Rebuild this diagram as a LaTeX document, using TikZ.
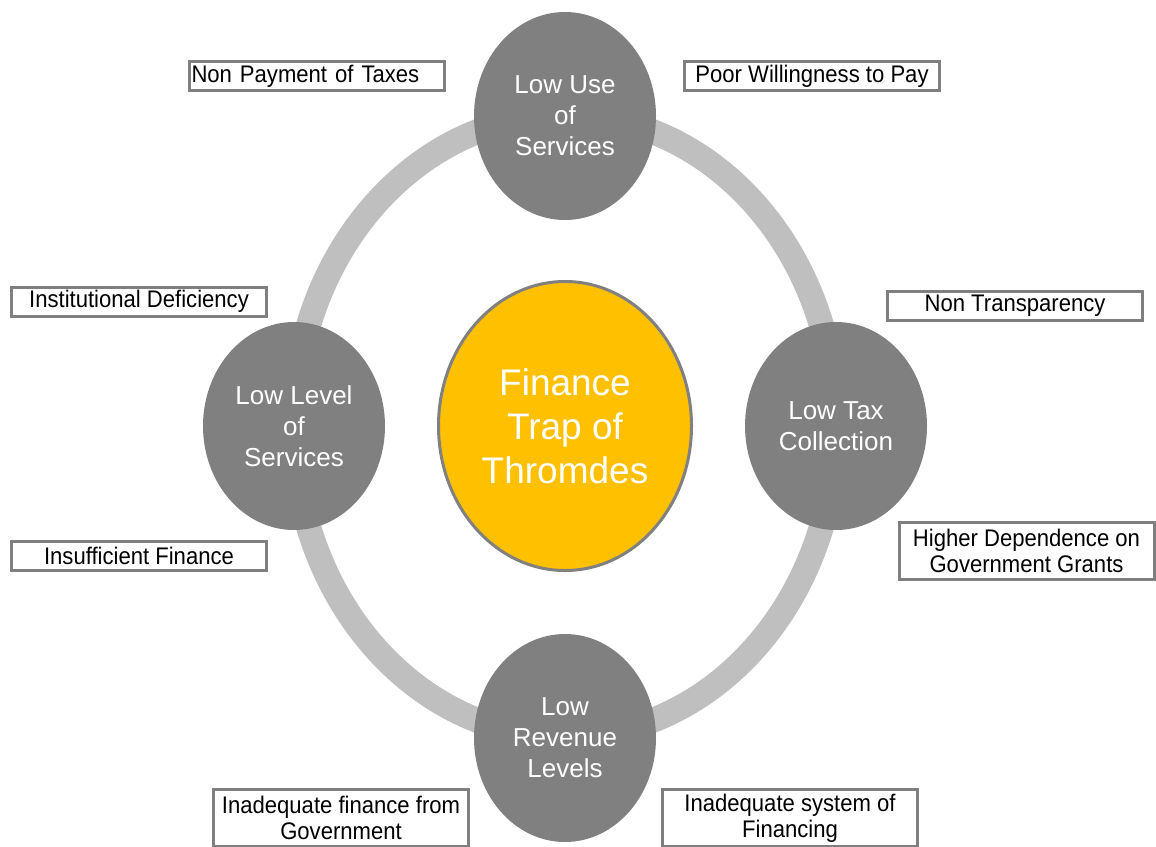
\documentclass[tikz,border=0pt]{standalone}
\usepackage{fontspec}
\setmainfont{Liberation Sans}
\newfontfamily\narrowsans[FakeStretch=0.92]{Liberation Sans}
\usetikzlibrary{shapes.geometric}
\definecolor{circgray}{HTML}{808080}
\definecolor{ringgray}{HTML}{BFBFBF}
\definecolor{gold}{HTML}{FFC000}
\definecolor{boxline}{HTML}{7F7F7F}
\begin{document}
\begin{tikzpicture}[x=1pt,y=-1pt,
  factor/.style={ellipse, fill=circgray, draw=none, minimum width=182pt, minimum height=208pt, inner sep=0pt, text=white, align=center, font=\fontsize{26}{31}\selectfont},
  corenode/.style={ellipse, fill=gold, draw=circgray, line width=3pt, minimum width=253pt, minimum height=289pt, inner sep=0pt, text=white, align=center, font=\fontsize{37}{44}\selectfont},
  cause/.style={rectangle, draw=boxline, line width=3pt, fill=white, minimum width=255pt, minimum height=29pt, inner sep=2pt, align=center, font=\narrowsans\fontsize{24}{26}\selectfont},
  ring/.style={draw=ringgray, line width=25pt}
]
\useasboundingbox (0,0) rectangle (1156,846);
\fill[white] (0,0) rectangle (1156,846);
\coordinate (mid) at (565,426);
\draw[ring] (mid) ellipse [x radius=271pt, y radius=311pt];

\node[corenode] (core) at (mid) {Finance\\Trap of\\Thromdes};
\node[factor] (use) at (565,116) {Low Use\\of\\Services};
\node[factor] (level) at (294,426) {Low Level\\of\\Services};
\node[factor] (tax) at (836,426) {Low Tax\\Collection};
\node[factor] (rev) at (565,738) {Low\\Revenue\\Levels};

\node[cause, align=left, text width=251pt] (c1) at (317,76) {Non Payment of Taxes};
\node[cause] (c2) at (812,76) {Poor Willingness to Pay};
\node[cause] (c3) at (139,301.5) {Institutional Deficiency};
\node[cause] (c4) at (1015,306) {Non Transparency};
\node[cause] (c5) at (139,556) {Insufficient Finance};
\node[cause, minimum height=57pt] (c6) at (1026.5,551) {Higher Dependence on\\Government Grants};
\node[cause, minimum height=57pt] (c7) at (341,818) {Inadequate finance from\\Government};
\node[cause, minimum height=57pt] (c8) at (790,818) {Inadequate system of\\Financing};
\end{tikzpicture}
\end{document}
